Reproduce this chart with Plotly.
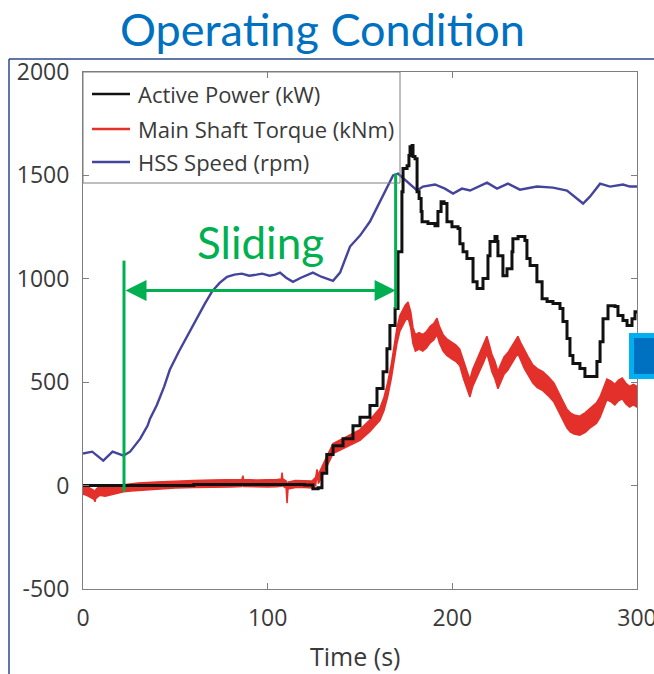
import plotly.graph_objects as go

# ---------------- data ----------------
# Active power (kW), logged as a step signal
time_power = [0, 20, 60, 100, 120, 124.5, 127.3, 129.4, 132, 135.4, 140.8, 146.2, 150,
              155.4, 159.2, 162.5, 164.6, 166.2, 169, 170.6, 172.7, 173.3, 175.5, 176.5,
              177.1, 178.2, 178.7, 179.8, 180.9, 182.0, 183.1, 183.6, 186.8, 190.6, 192.2,
              193.9, 195.5, 197.1, 199.8, 203.1, 204.1, 205.8, 207.9, 211.2, 213.4, 216.6,
              219.3, 220.4, 223.1, 224.2, 224.7, 227.4, 229.6, 232.3, 232.8, 235.6, 239.3,
              240.4, 242.1, 245.8, 248.6, 251.3, 254.5, 258.3, 259.9, 262.1, 263.7, 265.3,
              269.1, 271.8, 275.6, 278.3, 280.0, 281.6, 284.3, 288.1, 289.7, 292.4, 294.6,
              297.3, 298.9, 300]
power_kw = [0, 0, 5, 5, 3, -15, -10, 60, 150, 193, 227, 290, 330,
            387, 469, 551, 662, 774, 856, 1131, 1421, 1533, 1547, 1596,
            1639, 1644, 1591, 1581, 1421, 1388, 1325, 1276, 1267, 1257, 1325,
            1373, 1364, 1276, 1252, 1243, 1170, 1131, 1098, 986, 953, 1001,
            1112, 1180, 1204, 1180, 1112, 1015, 1049, 1131, 1194, 1204, 1185,
            1098, 1064, 986, 904, 890, 880, 856, 793, 711, 629, 590,
            566, 527, 527, 600, 696, 807, 870, 866, 822, 798, 774,
            807, 841, 832]

# Main shaft torque (kNm): mean level and noise spread around it
time_torque = [0, 2, 4, 6, 6.5, 7, 9, 12, 15, 18, 22, 26, 30, 40, 50, 60, 70, 80, 86,
               86.6, 87, 95, 100, 105, 107.4, 107.8, 108.2, 110, 110.5, 111, 115, 120,
               124, 126, 126.7, 127.5, 128.3, 132, 135.4, 143, 150, 155.4, 158, 160.8,
               163, 165, 167, 168.5, 170, 171.6, 173, 174.5, 176, 177.5, 178.7, 180, 182,
               184, 186, 188, 190, 191.7, 193, 195, 197, 200, 202, 204, 206, 207.5, 209.5,
               211, 213, 215, 217, 218.7, 220, 221.5, 223, 224.7, 226, 228, 230, 232, 234,
               235.5, 237, 239, 241, 243.6, 246, 249, 252, 255, 258, 260, 262, 264, 266,
               269, 272, 275, 278, 280, 282, 283.7, 286, 288, 290, 292, 294, 296, 298, 300]
torque_knm = [-20, -25, -35, -45, -63, -40, -25, -30, -25, -20, -12, -8, -5, 0, 5, 8, 10, 10,
              12, 40, 12, 10, 10, 12, 15, 55, 15, 5, -77, 0, 8, 8,
              5, 20, 68, 30, 48, 116, 179, 213, 245, 290, 315, 345,
              395, 465, 555, 635, 725, 785, 810, 835, 850, 800, 725, 690, 700,
              690, 705, 730, 745, 770, 730, 690, 670, 650, 640, 620, 560, 520, 470,
              520, 560, 600, 640, 680, 640, 590, 560, 510, 540, 580, 600, 630, 660,
              680, 650, 610, 580, 540, 520, 505, 480, 450, 400, 360, 325, 305, 295,
              290, 305, 330, 350, 380, 430, 465, 455, 440, 460, 470, 445, 430, 440, 430]
torque_spread = [22, 22, 22, 22, 15, 22, 22, 22, 22, 20, 18, 18, 17, 17, 17, 17, 17, 17, 17,
                 8, 17, 17, 17, 17, 17, 8, 17, 17, 8, 17, 17, 17,
                 17, 20, 10, 20, 22, 24, 24, 25, 26, 28, 29, 30,
                 32, 34, 35, 36, 38, 38, 38, 38, 38, 40, 40, 40, 40,
                 40, 40, 40, 40, 40, 40, 40, 40, 40, 40, 40, 42, 42, 42,
                 42, 42, 42, 42, 42, 42, 42, 42, 42, 42, 42, 42, 42, 42,
                 42, 42, 44, 44, 44, 46, 46, 46, 46, 46, 46, 46, 46, 46,
                 46, 48, 48, 50, 50, 50, 50, 50, 50, 50, 50, 50, 50, 50, 50]

# High-speed shaft speed (rpm)
time_speed = [0, 5, 11, 16, 22, 25.5, 31, 35, 36.3, 40, 44, 47, 52, 58, 62, 66, 70, 74, 78,
              82, 86, 90, 94, 97, 101, 104, 106.7, 110, 113.7, 118, 124.5, 129, 135.4,
              139.2, 144.6, 150, 155.4, 160.8, 167.9, 170.6, 175.4, 180.9, 184.1, 190.6,
              196, 200.4, 205.2, 209.6, 218.8, 224.2, 230.1, 236.6, 245.8, 254.5, 262.1,
              267.5, 270.8, 274.5, 280, 285.4, 292.4, 296.2, 300]
speed_rpm = [155, 164, 121, 164, 145, 164, 227, 290, 324, 390, 480, 560, 650, 750, 820,
             880, 940, 980, 1010, 1020, 1025, 1015, 1020, 1025, 1015, 1020, 1030, 1005,
             985, 1005, 1030, 1010, 990, 1030, 1156, 1209, 1277, 1373, 1500, 1509, 1470,
             1427, 1446, 1456, 1436, 1412, 1436, 1427, 1465, 1436, 1460, 1431, 1446, 1441,
             1427, 1388, 1364, 1397, 1460, 1446, 1456, 1446, 1446]

# Sliding interval (s) and the level of its marker arrow
sliding_start, sliding_end = 22.2, 169.3
sliding_arrow_level = 943
sliding_left_span = (-29, 1088)
sliding_right_span = (856, 1509)

series_names = ["Active Power (kW)", "Main Shaft Torque (kNm)", "HSS Speed (rpm)"]
y_ticks = [-500, 0, 500, 1000, 1500, 2000]
y_tick_labels = ["-500", "0", "500", "1000", "1500", "2000"]
x_ticks = [0, 100, 200, 300]

# ---------------- styling ----------------
BLACK = "#111111"
RED = "#E3302A"
PURPLE = "#45449C"
GREEN = "#00B050"
TITLE_BLUE = "#0070C0"
AXIS_GREY = "#7F7F7F"
TEXT = "#3A3A3A"
FONT = "Open Sans"

W, H = 654, 674
L, R, T, B = 83, 17, 72, 85
PW, PH = W - L - R, H - T - B


def px_x(p):
    return (p - L) / PW


def px_y(p):
    return (H - B - p) / PH


fig = go.Figure()

# torque band (mean +/- spread)
upper = [m + s for m, s in zip(torque_knm, torque_spread)]
lower = [m - s for m, s in zip(torque_knm, torque_spread)]
fig.add_trace(go.Scatter(
    x=time_torque + time_torque[::-1], y=upper + lower[::-1],
    fill="toself", fillcolor=RED, mode="lines",
    line=dict(color=RED, width=1.5), name=series_names[1], showlegend=False,
    hoverinfo="skip"))

fig.add_trace(go.Scatter(
    x=time_speed, y=speed_rpm, mode="lines", line=dict(color=PURPLE, width=2.4),
    name=series_names[2], showlegend=False))

fig.add_trace(go.Scatter(
    x=time_power, y=power_kw, mode="lines", line=dict(color=BLACK, width=3),
    line_shape="hv", name=series_names[0], showlegend=False))

# sliding markers
for t, (y0, y1) in [(sliding_start, sliding_left_span), (sliding_end, sliding_right_span)]:
    fig.add_trace(go.Scatter(x=[t, t], y=[y0, y1], mode="lines",
                             line=dict(color=GREEN, width=3), showlegend=False,
                             hoverinfo="skip"))

fig.add_annotation(x=sliding_end, y=sliding_arrow_level, ax=sliding_start,
                   ay=sliding_arrow_level, xref="x", yref="y", axref="x", ayref="y",
                   text="", showarrow=True, arrowhead=2, arrowside="end+start",
                   arrowsize=1.4, arrowwidth=3, arrowcolor=GREEN)
fig.add_annotation(x=(sliding_start + sliding_end) / 2 + 0.5, y=1180, xref="x", yref="y",
                   text="Sliding", showarrow=False, yanchor="middle",
                   font=dict(family="Lato", size=44, color=GREEN))

shapes = []
# legend box
shapes.append(dict(type="rect", xref="paper", yref="paper", x0=0, x1=px_x(400),
                   y0=px_y(183), y1=1, line=dict(color=AXIS_GREY, width=1),
                   fillcolor="rgba(255,255,255,0)", layer="above"))
legend_colors = [BLACK, RED, PURPLE]
legend_rows = [94, 129, 162]
for c, yy, name in zip(legend_colors, legend_rows, series_names):
    shapes.append(dict(type="line", xref="paper", yref="paper",
                       x0=px_x(92), x1=px_x(130), y0=px_y(yy), y1=px_y(yy),
                       line=dict(color=c, width=2.5)))
    fig.add_annotation(xref="paper", yref="paper", x=px_x(136), y=px_y(yy),
                       xanchor="left", yanchor="middle", text=name, showarrow=False,
                       font=dict(family=FONT, size=22, color=TEXT))

# slide frame lines
NAVY = "#2C4A8A"
shapes.append(dict(type="line", xref="paper", yref="paper", x0=px_x(9), x1=px_x(660),
                   y0=px_y(59), y1=px_y(59), line=dict(color=NAVY, width=1.5)))
shapes.append(dict(type="line", xref="paper", yref="paper", x0=px_x(9), x1=px_x(9),
                   y0=px_y(59), y1=px_y(680), line=dict(color=NAVY, width=1.5)))
# slide button on the right edge
shapes.append(dict(type="rect", xref="paper", yref="paper", x0=px_x(629), x1=px_x(670),
                   y0=px_y(379), y1=px_y(333), line=dict(width=0), fillcolor="#00B0F0",
                   layer="above"))
shapes.append(dict(type="rect", xref="paper", yref="paper", x0=px_x(634), x1=px_x(670),
                   y0=px_y(374), y1=px_y(338), line=dict(width=0), fillcolor="#0070C0",
                   layer="above"))

fig.add_annotation(xref="paper", yref="paper", x=px_x(322), y=px_y(29),
                   xanchor="center", yanchor="middle",
                   text="Operating Condition", showarrow=False,
                   font=dict(family="Lato", size=45, color=TITLE_BLUE))
fig.add_annotation(xref="paper", yref="paper", x=px_x(355), y=px_y(656),
                   xanchor="center", yanchor="middle",
                   text="Time (s)", showarrow=False,
                   font=dict(family=FONT, size=25, color=TEXT))

axis_common = dict(showgrid=False, zeroline=False, showline=True, linecolor=AXIS_GREY,
                   linewidth=1, mirror="ticks", ticks="inside", ticklen=6,
                   tickcolor=AXIS_GREY, ticklabeloverflow="allow", automargin=False,
                   tickfont=dict(family=FONT, size=23, color=TEXT))

fig.update_layout(
    width=W, height=H, margin=dict(l=L, r=R, t=T, b=B, autoexpand=False),
    paper_bgcolor="white", plot_bgcolor="white", shapes=shapes, showlegend=False,
    xaxis=dict(range=[0, 300], tickvals=x_ticks, ticklabelstandoff=8, **axis_common),
    yaxis=dict(range=[-500, 2000], tickvals=y_ticks, ticktext=y_tick_labels,
               ticklabelstandoff=8, **axis_common),
)

fig.write_html("out.html")
